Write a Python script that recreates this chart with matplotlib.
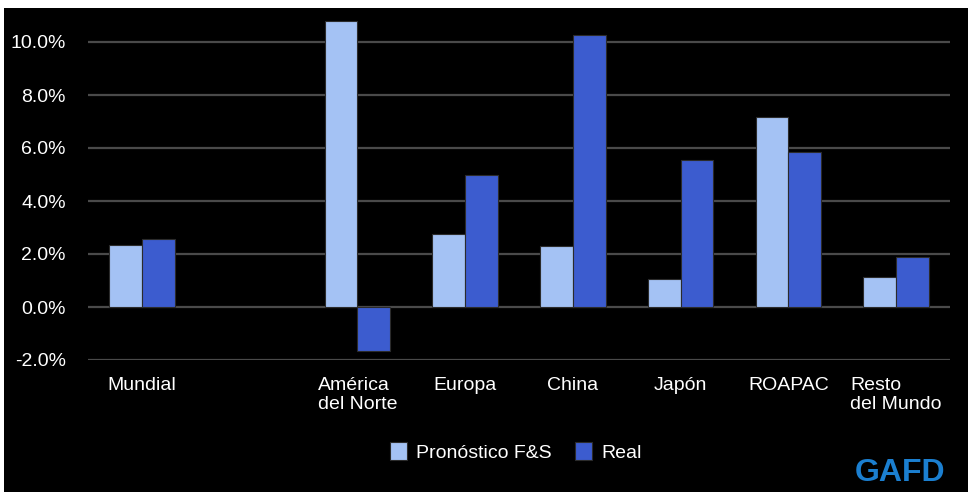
import numpy as np
import matplotlib.pyplot as plt
from matplotlib.patches import Rectangle
from matplotlib.ticker import FuncFormatter

plt.rcParams['font.family'] = ['Liberation Sans', 'DejaVu Sans']

# data (percent growth); the empty slot keeps the gap after "Mundial"
categories = ['Mundial', '', 'América\ndel Norte', 'Europa', 'China', 'Japón', 'ROAPAC', 'Resto\ndel Mundo']
pronostico = [2.34, np.nan, 10.8, 2.75, 2.32, 1.06, 7.17, 1.12]
real = [2.57, np.nan, -1.65, 4.98, 10.26, 5.55, 5.85, 1.89]
series_names = ['Pronóstico F&S', 'Real']

light = '#a4c2f4'
dark = '#3c5ccf'

fig = plt.figure(figsize=(9.68, 4.92), dpi=100)
fig.patch.set_facecolor('white')
# black slide background (thin white strip on top/left like the screenshot)
fig.patches.append(Rectangle((4 / 968, 0), 1, 1 - 8 / 492, transform=fig.transFigure,
                             facecolor='black', edgecolor='none', zorder=-5))

ax = fig.add_axes([88 / 968, 1 - 360 / 492, (950 - 88) / 968, (360 - 15.5) / 492])
ax.set_facecolor('none')

x = np.arange(len(categories))
w = 0.305
b1 = ax.bar(x - w / 2, pronostico, w, color=light, edgecolor='#2b2b2b', linewidth=0.8,
            label=series_names[0], zorder=3)
b2 = ax.bar(x + w / 2, real, w, color=dark, edgecolor='#2b2b2b', linewidth=0.8,
            label=series_names[1], zorder=3)

ax.set_xlim(-0.5, len(categories) - 0.5)
ax.set_ylim(-2.0, 11.0)
ax.set_yticks(np.arange(-2, 11, 2))
ax.yaxis.set_major_formatter(FuncFormatter(lambda v, p: f'{v:.1f}%'))
ax.grid(axis='y', color='#4a4a4a', linewidth=1.6, zorder=1)
for s in ax.spines.values():
    s.set_visible(False)

ax.set_xticks(x)
ax.set_xticklabels(categories, multialignment='left')
ax.tick_params(axis='x', length=0, pad=12, labelsize=14, colors='white')
ax.tick_params(axis='y', length=0, pad=16, labelsize=14, colors='white')
ax.set_axisbelow(True)

leg = fig.legend(handles=[b1, b2], loc='center', bbox_to_anchor=(516 / 968, 1 - 452 / 492),
                 ncol=2, frameon=False, fontsize=14, handlelength=0.85, handleheight=1.0,
                 columnspacing=1.2, handletextpad=0.5)
for t in leg.get_texts():
    t.set_color('white')

# logo at the bottom right
fig.text(855 / 968, 4 / 492, 'GAFD', color='#1b7fd0', fontsize=23, fontweight='bold',
         ha='left', va='bottom')

fig.savefig('out.png', dpi=100, facecolor=fig.get_facecolor())
